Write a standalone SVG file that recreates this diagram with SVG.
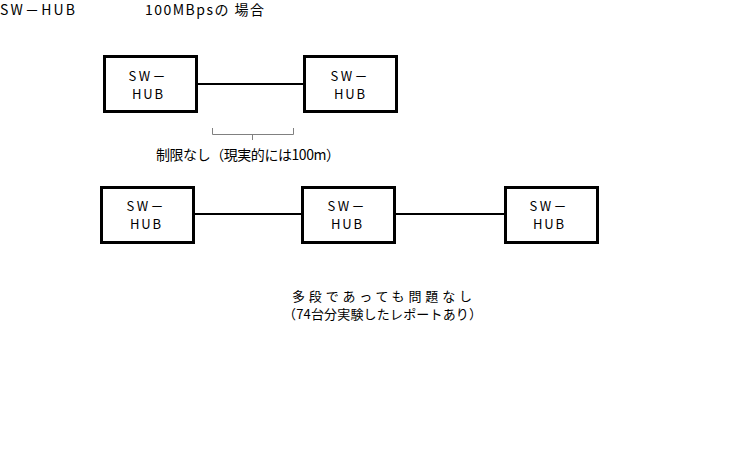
<svg xmlns="http://www.w3.org/2000/svg" width="733" height="460" viewBox="0 0 733 460">
<style>
text{font-family:"Noto Sans CJK JP","Liberation Sans",sans-serif;font-size:13px;fill:#000}
.big{font-size:14px}
.box{fill:#fff;stroke:#000;stroke-width:3}
.c{text-anchor:middle}
.ln{stroke:#000;stroke-width:2;fill:none}
</style>
<rect width="733" height="460" fill="#fff"/>
<text class="big" x="0" y="15" textLength="75" lengthAdjust="spacing">SW－HUB</text>
<text class="big" x="145" y="15" textLength="119" lengthAdjust="spacing">100MBpsの 場合</text>
<g id="connectors">
<line class="ln" x1="197" y1="84" x2="304" y2="84"/>
<line class="ln" x1="194" y1="214" x2="302" y2="214"/>
<line class="ln" x1="395" y1="214" x2="504" y2="214"/>
<path d="M212.5,128 V134.5 H293.5 V128 M252.5,134.5 V140" stroke="#808080" stroke-width="1" fill="none"/>
</g>
<g id="n1"><rect class="box" x="104.5" y="56.5" width="92" height="55"/><text class="c" x="147" y="81" textLength="37" lengthAdjust="spacing">SW－</text><text class="c" x="147.5" y="99" textLength="31" lengthAdjust="spacing">HUB</text></g>
<g id="n2"><rect class="box" x="304.5" y="56.5" width="92" height="55"/><text class="c" x="349" y="81" textLength="37" lengthAdjust="spacing">SW－</text><text class="c" x="349.5" y="99" textLength="31" lengthAdjust="spacing">HUB</text></g>
<g id="n3"><rect class="box" x="101.5" y="187.5" width="92" height="55"/><text class="c" x="145" y="211" textLength="37" lengthAdjust="spacing">SW－</text><text class="c" x="145.5" y="229" textLength="31" lengthAdjust="spacing">HUB</text></g>
<g id="n4"><rect class="box" x="302.5" y="187.5" width="92" height="55"/><text class="c" x="346" y="211" textLength="37" lengthAdjust="spacing">SW－</text><text class="c" x="346.5" y="229" textLength="31" lengthAdjust="spacing">HUB</text></g>
<g id="n5"><rect class="box" x="505.5" y="187.5" width="92" height="55"/><text class="c" x="548" y="211" textLength="37" lengthAdjust="spacing">SW－</text><text class="c" x="548.5" y="229" textLength="31" lengthAdjust="spacing">HUB</text></g>
<text class="big" x="156" y="160" textLength="184" lengthAdjust="spacing">制限なし（現実的には100m）</text>
<text x="292" y="301" textLength="180" lengthAdjust="spacing">多段であっても問題なし</text>
<text x="283" y="319" textLength="199" lengthAdjust="spacing">（74台分実験したレポートあり）</text>
</svg>
